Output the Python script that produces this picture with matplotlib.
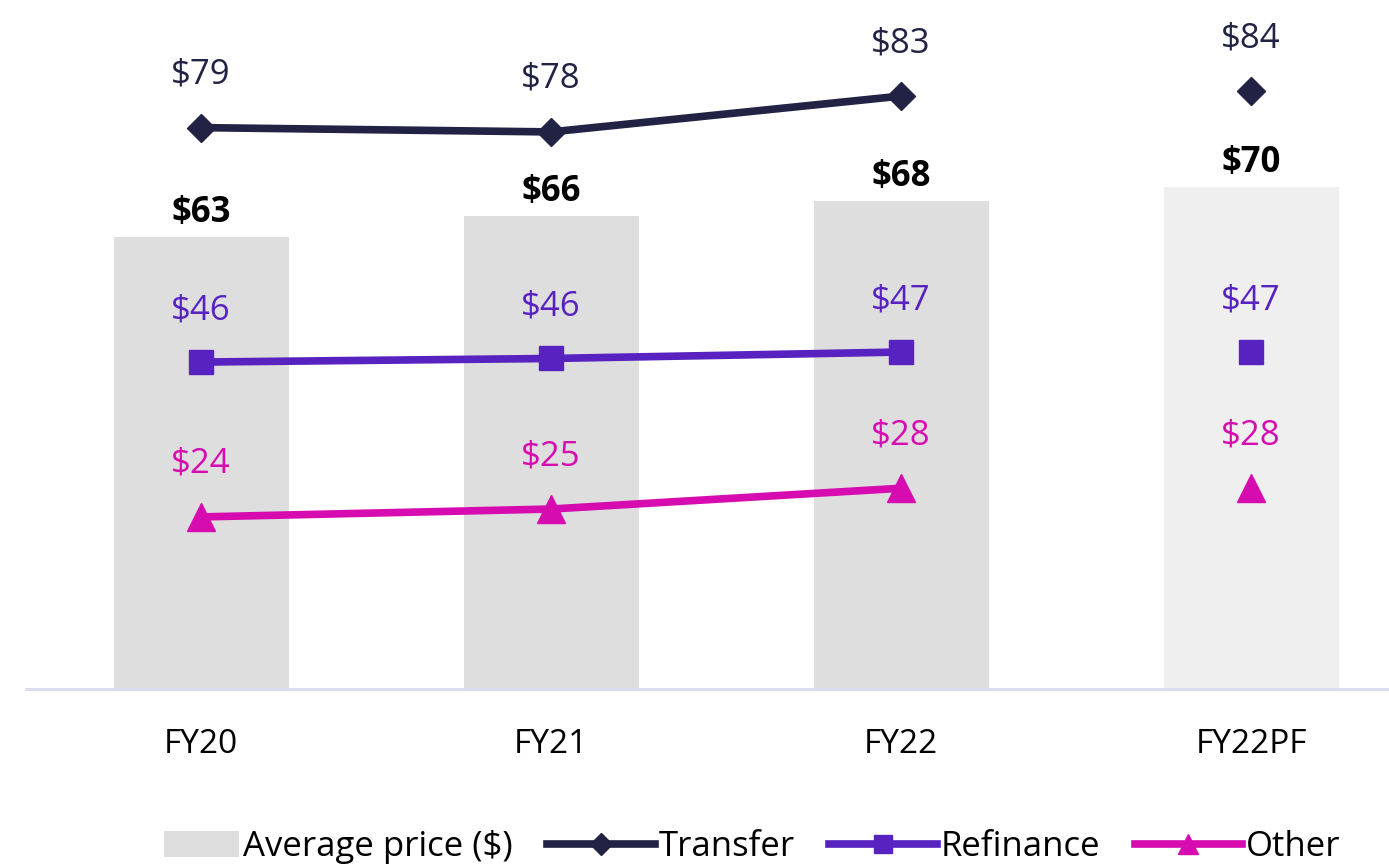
import matplotlib
matplotlib.use("Agg")
import matplotlib.pyplot as plt
from matplotlib.patches import Patch, Rectangle
from matplotlib.lines import Line2D
from matplotlib.legend_handler import HandlerPatch
import numpy as np

### Data ###
categories = ["FY20", "FY21", "FY22", "FY22PF"]
avg_price = [63, 66, 68, 70]
transfer = [78.3, 77.7, 82.7, 83.4]
refinance = [45.6, 46.1, 47.0, 47.0]
other = [24.0, 25.1, 28.0, 28.0]
avg_labels = ["$63", "$66", "$68", "$70"]
transfer_labels = ["$79", "$78", "$83", "$84"]
refinance_labels = ["$46", "$46", "$47", "$47"]
other_labels = ["$24", "$25", "$28", "$28"]
### End data ###

plt.rcParams['font.family'] = ['Open Sans', 'DejaVu Sans']

c_bar = "#dedede"
c_bar_pf = "#efefef"
c_transfer = "#222244"
c_refi = "#5822c0"
c_other = "#d60cb0"

fig = plt.figure(figsize=(13.89, 8.68), dpi=100)
W, H = 1389, 868
# axes from x=26px, categories 350px apart; baseline at y=689px
ax = fig.add_axes([26/W, (H-689)/H, 1400/W, 689/H])

x = np.arange(len(categories))
bar_colors = [c_bar, c_bar, c_bar, c_bar_pf]
ax.bar(x, avg_price, width=0.5, color=bar_colors, zorder=1)

# connected lines for actual years, lone marker for pro-forma
n = 3
lw = 5.5
ax.plot(x[:n], transfer[:n], color=c_transfer, lw=lw, marker="D", ms=14, zorder=3)
ax.plot(x[n:], transfer[n:], color=c_transfer, lw=0, marker="D", ms=14, zorder=3)
ax.plot(x[:n], refinance[:n], color=c_refi, lw=lw, marker="s", ms=17, zorder=3)
ax.plot(x[n:], refinance[n:], color=c_refi, lw=0, marker="s", ms=17, zorder=3)
ax.plot(x[:n], other[:n], color=c_other, lw=lw, marker="^", ms=20, zorder=3)
ax.plot(x[n:], other[n:], color=c_other, lw=0, marker="^", ms=20, zorder=3)

fs = 25
for i in x:
    ax.annotate(avg_labels[i], (i, avg_price[i]), xytext=(0, 24), textcoords="offset pixels",
                ha="center", va="center", fontsize=fs, fontweight="bold", color="black")
    ax.annotate(transfer_labels[i], (i, transfer[i]), xytext=(0, 53), textcoords="offset pixels",
                ha="center", va="center", fontsize=fs, color=c_transfer)
    ax.annotate(refinance_labels[i], (i, refinance[i]), xytext=(0, 52), textcoords="offset pixels",
                ha="center", va="center", fontsize=fs, color=c_refi)
    ax.annotate(other_labels[i], (i, other[i]), xytext=(0, 53), textcoords="offset pixels",
                ha="center", va="center", fontsize=fs, color=c_other)

ax.set_xlim(-0.5, 3.5)
ax.set_ylim(0, 96.1)
ax.set_yticks([])
ax.set_xticks(x)
ax.set_xticklabels(categories, fontsize=24)
ax.tick_params(axis="x", length=0, pad=28)
for s in ("top", "right", "left"):
    ax.spines[s].set_visible(False)
ax.spines["bottom"].set_color("#d9d9ef")
ax.spines["bottom"].set_linewidth(2)


def short_patch(legend, orig_handle, xdescent, ydescent, width, height, fontsize):
    w = width * 0.7
    return Rectangle((-xdescent + width - w, -ydescent), w, height)


handles = [
    Patch(facecolor=c_bar, label="Average price ($)"),
    Line2D([], [], color=c_transfer, lw=lw, marker="D", ms=11, label="Transfer"),
    Line2D([], [], color=c_refi, lw=lw, marker="s", ms=13, label="Refinance"),
    Line2D([], [], color=c_other, lw=lw, marker="^", ms=15, label="Other"),
]
fig.legend(handles=handles, loc="center", bbox_to_anchor=(736/W, (H-847)/H), ncol=4,
           frameon=False, fontsize=25, handlelength=3.1, handletextpad=0.1,
           columnspacing=1.0, handleheight=0.75,
           handler_map={Patch: HandlerPatch(patch_func=short_patch)})

plt.savefig("out.png", dpi=100)
